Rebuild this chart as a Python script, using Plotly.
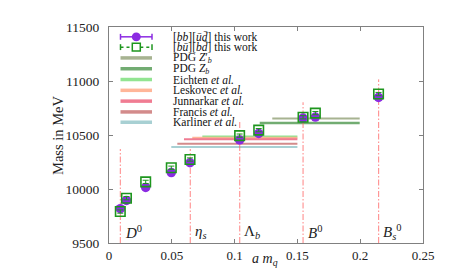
import plotly.graph_objects as go

# ---------------- data ----------------
amq_ud = [0.0090, 0.0139, 0.0292, 0.0496, 0.0645, 0.1040, 0.1192, 0.1545, 0.1643, 0.2146]
mass_bbud = [9818, 9894, 10015, 10152, 10243, 10454, 10515, 10657, 10666, 10848]
err_bbud = [12, 12, 12, 12, 12, 12, 12, 12, 12, 12]
mass_bubd = [9791, 9915, 10066, 10197, 10273, 10494, 10545, 10664, 10703, 10879]
err_bubd = [15, 15, 15, 15, 15, 15, 15, 15, 15, 15]

ref_names = ["PDG <i>Z</i>′<sub><i>b</i></sub>", "PDG <i>Z</i><sub><i>b</i></sub>",
             "Eichten <i>et al.</i>", "Leskovec <i>et al.</i>", "Junnarkar <i>et al.</i>",
             "Francis <i>et al.</i>", "Karliner <i>et al.</i>"]
ref_mass = [10652, 10610, 10487, 10475, 10461, 10418, 10389]
ref_xstart = [0.130, 0.120, 0.0743, 0.0663, 0.0597, 0.0544, 0.0496]
ref_xend = [0.1996, 0.1996, 0.150, 0.150, 0.150, 0.150, 0.150]
ref_colors = ["#98a67e", "#5a9e5a", "#80e080", "#ffaa88", "#ee6680", "#cc7777", "#99c8cc"]
ref_widths = [2, 2.5, 2, 2, 2, 2, 2]

phys_labels = ["<i>D</i><sup>0</sup>", "<i>η</i><sub><i>s</i></sub>", "Λ<sub><i>b</i></sub>",
               "<i>B</i><sup>0</sup>", "<i>B</i><sub><i>s</i></sub><sup>0</sup>"]
phys_x = [0.0090, 0.0647, 0.1041, 0.1545, 0.2147]
phys_top = [10370, 10370, 10636, 10803, 11015]

xticks = [0, 0.05, 0.1, 0.15, 0.2, 0.25]
xtick_text = ["0", "0.05", "0.1", "0.15", "0.2", "0.25"]
yticks = [9500, 10000, 10500, 11000, 11500]
ytick_text = ["9500", "10000", "10500", "11000", "11500"]

PURPLE = "#8b2be2"
GREEN = "#1e961e"
VLINE = "rgba(255,90,90,0.75)"
FONT = "Liberation Serif"

fig = go.Figure()

# reference bands
for name, m, x0, x1, c, w in zip(ref_names, ref_mass, ref_xstart, ref_xend, ref_colors, ref_widths):
    fig.add_trace(go.Scatter(x=[x0, x1], y=[m, m], mode="lines",
                             line=dict(color=c, width=w), opacity=0.85,
                             showlegend=False, hoverinfo="skip"))

# physical point vertical lines
for x, top in zip(phys_x, phys_top):
    fig.add_trace(go.Scatter(x=[x, x], y=[9500, top], mode="lines",
                             line=dict(color=VLINE, width=1, dash="6px,2px,1.5px,2px"),
                             showlegend=False, hoverinfo="skip"))

# data
fig.add_trace(go.Scatter(x=amq_ud, y=mass_bbud, mode="markers",
                         marker=dict(symbol="circle", size=9.5, color=PURPLE),
                         error_y=dict(type="data", array=err_bbud, color=PURPLE, thickness=1, width=3),
                         showlegend=False))
fig.add_trace(go.Scatter(x=amq_ud, y=mass_bubd, mode="markers",
                         marker=dict(symbol="square-open", size=9.5, color=GREEN, line=dict(width=1.6, color=GREEN)),
                         error_y=dict(type="data", array=err_bubd, color=GREEN, thickness=1, width=3),
                         showlegend=False))

annotations = []
for lab, x in zip(phys_labels, phys_x):
    annotations.append(dict(x=x + 0.002, y=9600, xref="x", yref="y", text=lab, showarrow=False,
                            xanchor="left", yanchor="middle",
                            font=dict(family=FONT, size=15, color="#222")))

# ----- manual legend (paper coordinates) -----
L, R, T, B = 101.0, 415.0, 15.0, 235.0
def px(xp):
    return (xp - L) / (R - L)
def py(yp):
    return (B - yp) / (B - T)

shapes = []
rows = [25, 35.5, 46.5, 57.5, 68.5, 79.5, 90.5, 101.5, 112]
sx0, sx1, scx = 112.5, 144, 128.3
legend_texts = ["[<i>bb</i>][<i>ūd̄</i>] this work", "[<i>bū</i>][<i>bd̄</i>] this work"] + ref_names

# row 1: purple errorbar + circle
r = rows[0]
shapes.append(dict(type="line", xref="paper", yref="paper", x0=px(sx0), x1=px(sx1), y0=py(r), y1=py(r),
                   line=dict(color=PURPLE, width=1.5)))
for xx in (sx0, sx1):
    shapes.append(dict(type="line", xref="paper", yref="paper", x0=px(xx), x1=px(xx), y0=py(r - 3), y1=py(r + 3),
                       line=dict(color=PURPLE, width=1.5)))
shapes.append(dict(type="circle", xref="paper", yref="paper", x0=px(scx - 4.5), x1=px(scx + 4.5),
                   y0=py(r + 4.5), y1=py(r - 4.5), fillcolor=PURPLE, line=dict(color=PURPLE, width=0)))
# row 2: green dashed errorbar + open square
r = rows[1]
shapes.append(dict(type="line", xref="paper", yref="paper", x0=px(sx0), x1=px(scx - 4), y0=py(r), y1=py(r),
                   line=dict(color=GREEN, width=1.5, dash="3px,3px")))
shapes.append(dict(type="line", xref="paper", yref="paper", x0=px(scx + 4), x1=px(sx1), y0=py(r), y1=py(r),
                   line=dict(color=GREEN, width=1.5, dash="3px,3px")))
for xx in (sx0, sx1):
    shapes.append(dict(type="line", xref="paper", yref="paper", x0=px(xx), x1=px(xx), y0=py(r - 3), y1=py(r + 3),
                       line=dict(color=GREEN, width=1.5)))
shapes.append(dict(type="rect", xref="paper", yref="paper", x0=px(scx - 4), x1=px(scx + 4),
                   y0=py(r + 4), y1=py(r - 4), fillcolor="rgba(0,0,0,0)", line=dict(color=GREEN, width=1.5)))
# band rows
for r, c in zip(rows[2:], ref_colors):
    shapes.append(dict(type="line", xref="paper", yref="paper", x0=px(sx0), x1=px(sx1), y0=py(r), y1=py(r),
                       line=dict(color=c, width=3.5), opacity=0.85))
for r, t in zip(rows, legend_texts):
    annotations.append(dict(x=px(163), y=py(r), xref="paper", yref="paper", text=t, showarrow=False,
                            xanchor="left", yanchor="middle",
                            font=dict(family=FONT, size=11.5, color="#111")))

# axis titles
annotations.append(dict(x=px(40), y=0.5, xref="paper", yref="paper", text="Mass in MeV", textangle=-90,
                        showarrow=False, font=dict(family=FONT, size=14.5, color="#222")))
annotations.append(dict(x=px(257), y=py(263), xref="paper", yref="paper",
                        text="<i>a m</i><sub><i>q</i></sub>", showarrow=False,
                        font=dict(family=FONT, size=14, color="#222")))

axis_common = dict(showgrid=False, zeroline=False, showline=True, linecolor="#808080", linewidth=1,
                   mirror="allticks", ticks="inside", ticklen=4, tickcolor="#808080")

fig.update_layout(
    width=460, height=273,
    margin=dict(l=101, r=45, t=15, b=38),
    paper_bgcolor="white", plot_bgcolor="white",
    showlegend=False,
    xaxis=dict(range=[0, 0.25], tickvals=xticks, ticktext=xtick_text,
               tickfont=dict(family=FONT, size=13, color="#222"), **axis_common),
    yaxis=dict(range=[9500, 11500], tickvals=yticks, ticktext=ytick_text, ticklabelstandoff=6,
               tickfont=dict(family=FONT, size=13.5, color="#222"), **axis_common),
    shapes=shapes, annotations=annotations,
)

fig.write_html("out.html")
